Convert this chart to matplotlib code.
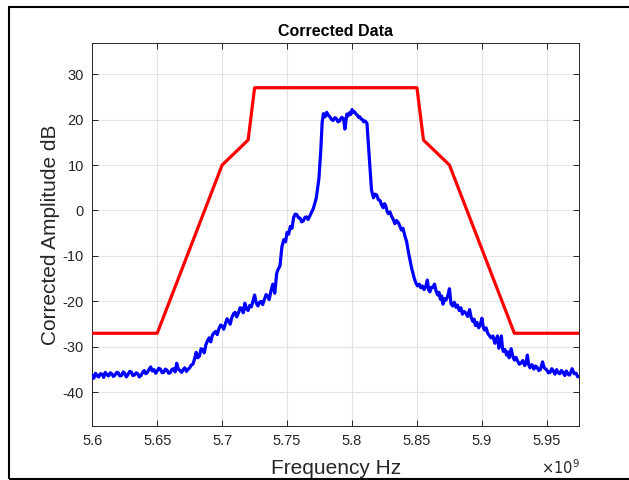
import matplotlib
matplotlib.use("Agg")
import matplotlib.pyplot as plt
from matplotlib.patches import Rectangle
from matplotlib.ticker import FuncFormatter

plt.rcParams['font.family'] = ['Liberation Sans', 'DejaVu Sans']
plt.rcParams['axes.unicode_minus'] = False

# Red limit mask (GHz, dB)
mask_f = [5.600, 5.650, 5.700, 5.720, 5.725, 5.850, 5.855, 5.875, 5.925, 5.975]
mask_db = [-27, -27, 10, 15.5, 27, 27, 15.5, 10, -27, -27]

data_f = [
    5.6000, 5.6012, 5.6025, 5.6038, 5.6050, 5.6062, 5.6075, 5.6088, 5.6100, 5.6112,
    5.6125, 5.6138, 5.6150, 5.6162, 5.6175, 5.6188, 5.6200, 5.6212, 5.6225, 5.6238,
    5.6250, 5.6262, 5.6275, 5.6288, 5.6300, 5.6312, 5.6325, 5.6338, 5.6350, 5.6362,
    5.6375, 5.6388, 5.6400, 5.6412, 5.6425, 5.6438, 5.6450, 5.6462, 5.6475, 5.6488,
    5.6500, 5.6512, 5.6525, 5.6538, 5.6550, 5.6562, 5.6575, 5.6588, 5.6600, 5.6612,
    5.6625, 5.6638, 5.6650, 5.6662, 5.6675, 5.6688, 5.6700, 5.6712, 5.6725, 5.6738,
    5.6750, 5.6762, 5.6775, 5.6788, 5.6800, 5.6812, 5.6825, 5.6838, 5.6850, 5.6862,
    5.6875, 5.6888, 5.6900, 5.6912, 5.6925, 5.6938, 5.6950, 5.6962, 5.6975, 5.6988,
    5.7000, 5.7012, 5.7025, 5.7038, 5.7050, 5.7062, 5.7075, 5.7088, 5.7100, 5.7112,
    5.7125, 5.7138, 5.7150, 5.7162, 5.7175, 5.7188, 5.7200, 5.7212, 5.7225, 5.7238,
    5.7250, 5.7262, 5.7275, 5.7288, 5.7300, 5.7312, 5.7325, 5.7338, 5.7350, 5.7362,
    5.7375, 5.7390, 5.7405, 5.7420, 5.7432, 5.7445, 5.7460, 5.7475, 5.7488, 5.7500,
    5.7512, 5.7525, 5.7538, 5.7550, 5.7562, 5.7575, 5.7588, 5.7600, 5.7612, 5.7625,
    5.7638, 5.7650, 5.7662, 5.7675, 5.7688, 5.7700, 5.7712, 5.7725, 5.7745, 5.7760,
    5.7770, 5.7780, 5.7792, 5.7805, 5.7818, 5.7830, 5.7842, 5.7855, 5.7868, 5.7880,
    5.7892, 5.7905, 5.7920, 5.7935, 5.7945, 5.7960, 5.7970, 5.7980, 5.7990, 5.8000,
    5.8010, 5.8020, 5.8030, 5.8040, 5.8050, 5.8060, 5.8070, 5.8080, 5.8090, 5.8100,
    5.8115, 5.8125, 5.8140, 5.8150, 5.8165, 5.8178, 5.8190, 5.8202, 5.8215, 5.8228,
    5.8240, 5.8250, 5.8260, 5.8270, 5.8280, 5.8292, 5.8305, 5.8318, 5.8330, 5.8342,
    5.8355, 5.8368, 5.8380, 5.8392, 5.8405, 5.8420, 5.8435, 5.8460, 5.8480, 5.8492,
    5.8505, 5.8518, 5.8530, 5.8542, 5.8555, 5.8568, 5.8580, 5.8590, 5.8600, 5.8610,
    5.8620, 5.8635, 5.8648, 5.8660, 5.8670, 5.8680, 5.8690, 5.8700, 5.8710, 5.8720,
    5.8735, 5.8750, 5.8762, 5.8775, 5.8788, 5.8800, 5.8812, 5.8825, 5.8838, 5.8850,
    5.8862, 5.8875, 5.8890, 5.8905, 5.8918, 5.8930, 5.8940, 5.8950, 5.8962, 5.8975,
    5.8988, 5.9000, 5.9010, 5.9020, 5.9032, 5.9045, 5.9058, 5.9070, 5.9085, 5.9100,
    5.9110, 5.9120, 5.9130, 5.9140, 5.9150, 5.9158, 5.9165, 5.9178, 5.9190, 5.9200,
    5.9210, 5.9225, 5.9238, 5.9250, 5.9262, 5.9275, 5.9288, 5.9300, 5.9315, 5.9330,
    5.9340, 5.9350, 5.9360, 5.9370, 5.9385, 5.9400, 5.9412, 5.9425, 5.9438, 5.9450,
    5.9467, 5.9480, 5.9500, 5.9512, 5.9525, 5.9538, 5.9550, 5.9562, 5.9575, 5.9588,
    5.9600, 5.9612, 5.9625, 5.9638, 5.9650, 5.9662, 5.9675, 5.9685, 5.9695, 5.9710,
    5.9725, 5.9738, 5.9750,
]
data_db = [
    -36.3, -36.9, -35.8, -36.4, -36.6, -35.9, -36.0, -36.7, -35.6, -36.1,
    -36.4, -35.7, -35.9, -36.5, -36.2, -35.6, -35.7, -36.4, -36.3, -35.5,
    -35.8, -36.6, -36.1, -35.4, -35.5, -36.3, -36.2, -35.7, -35.9, -36.6,
    -36.3, -35.6, -35.2, -35.9, -35.6, -34.9, -34.4, -35.3, -35.0, -35.8,
    -35.3, -34.7, -34.9, -35.7, -35.6, -34.9, -35.1, -35.8, -35.7, -35.0,
    -34.8, -35.5, -33.6, -34.9, -35.2, -35.6, -35.0, -34.6, -35.4, -34.9,
    -34.6, -34.0, -33.8, -32.6, -31.2, -32.4, -32.0, -30.4, -30.6, -31.3,
    -29.5, -28.6, -28.0, -28.9, -27.4, -26.9, -26.6, -27.3, -26.0, -25.2,
    -25.4, -26.1, -24.9, -23.8, -24.3, -25.0, -23.5, -22.7, -22.4, -23.4,
    -22.6, -21.4, -21.5, -22.5, -20.4, -21.7, -22.0, -20.9, -21.2, -19.8,
    -18.6, -20.3, -21.0, -20.2, -20.0, -20.7, -19.6, -18.5, -18.8, -19.6,
    -17.8, -16.2, -18.2, -13.8, -12.9, -12.2, -8.0, -6.4, -6.9, -4.8,
    -5.2, -3.5, -3.9, -1.6, -0.8, -0.9, -1.6, -1.7, -2.5, -2.3,
    -1.5, -1.4, -2.0, -1.2, -0.4, 0.3, 1.4, 2.8, 7.0, 13.5,
    19.4, 21.3, 20.6, 21.6, 20.9, 20.6, 20.0, 19.8, 20.4, 20.2,
    19.5, 19.7, 20.5, 20.2, 17.9, 21.2, 20.8, 21.5, 21.1, 22.2,
    21.6, 21.7, 21.2, 21.0, 20.5, 20.6, 20.1, 20.0, 19.5, 19.7,
    19.2, 15.0, 8.5, 4.5, 2.8, 3.6, 3.4, 2.4, 2.2, 1.2,
    0.6, 1.5, 1.0, -0.2, -0.7, -0.3, -1.3, -2.0, -2.9, -2.2,
    -2.6, -3.4, -4.3, -3.9, -5.4, -6.8, -9.3, -12.8, -15.0, -16.0,
    -16.6, -16.2, -17.0, -16.6, -17.4, -16.7, -15.3, -17.5, -17.9, -16.9,
    -17.0, -16.2, -17.8, -18.6, -18.0, -19.5, -18.8, -20.6, -19.4, -19.8,
    -19.0, -17.2, -20.5, -21.0, -20.2, -21.3, -20.8, -22.0, -21.4, -22.8,
    -22.2, -22.5, -23.3, -21.8, -23.6, -24.4, -23.9, -25.3, -24.6, -25.8,
    -25.1, -23.7, -25.6, -26.3, -25.8, -27.0, -27.5, -28.0, -27.6, -29.2,
    -28.4, -27.6, -30.3, -29.0, -27.6, -30.2, -31.0, -30.6, -31.8, -31.1,
    -32.4, -30.4, -32.1, -32.9, -32.3, -33.1, -33.8, -33.6, -33.0, -34.1,
    -33.5, -31.8, -33.9, -34.6, -33.9, -34.9, -34.2, -34.5, -35.2, -35.0,
    -33.3, -34.6, -35.1, -35.7, -35.6, -34.8, -35.3, -36.0, -35.0, -35.7,
    -35.9, -35.2, -35.6, -36.3, -35.3, -36.0, -36.2, -35.5, -34.8, -35.9,
    -35.8, -36.6, -36.5,
]

x_ticks = [5.6, 5.65, 5.7, 5.75, 5.8, 5.85, 5.9, 5.95]
y_ticks = [-40, -30, -20, -10, 0, 10, 20, 30]

fig = plt.figure(figsize=(6.29, 4.8), dpi=100)
ax = fig.add_axes([0.1467, 0.1125, 0.921 - 0.1467, 0.911 - 0.1125])

ax.plot([f * 1e9 for f in data_f], data_db, color='#0000ff', lw=2.3, zorder=3)
ax.plot([f * 1e9 for f in mask_f], mask_db, color='#ff0000', lw=2.3, zorder=4)

ax.set_xlim(5.6e9, 5.975e9)
ax.set_ylim(-47.4, 36.9)
ax.set_xticks([t * 1e9 for t in x_ticks])
ax.set_yticks(y_ticks)
ax.xaxis.set_major_formatter(FuncFormatter(lambda v, p: ('%g' % round(v / 1e9, 3))))
ax.grid(True, color='#e3e3e3', lw=0.8)
ax.set_axisbelow(True)
ax.tick_params(direction='in', top=True, right=True, length=4, width=0.7,
               colors='#262626', labelsize=10.5, labelcolor='#262626', pad=6)
for s in ax.spines.values():
    s.set_color('#262626')
    s.set_linewidth(0.7)

ax.set_title('Corrected Data', fontsize=11.5, fontweight='bold', pad=5)
ax.set_xlabel('Frequency Hz', fontsize=15, color='#262626', labelpad=8)
ax.set_ylabel('Corrected Amplitude dB', fontsize=15, color='#262626', labelpad=2)
fig.text(0.921, 0.006, r'$\times10^{9}$', ha='right', va='bottom', fontsize=10.5, color='#262626')

fig.patches.append(Rectangle((9 / 629, 1 / 480), 1.0, 472 / 480, transform=fig.transFigure,
                             fill=False, edgecolor='black', lw=1.5, figure=fig))

fig.savefig('out.png', dpi=100)
